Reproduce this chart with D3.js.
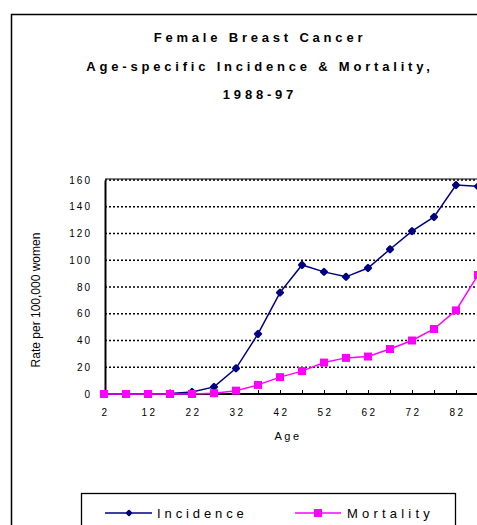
<!DOCTYPE html>
<html><head><meta charset="utf-8">
<script src="https://cdn.jsdelivr.net/npm/d3@7"></script>
<style>body{margin:0;background:#fff;}svg{display:block;font-family:"Liberation Sans",Arial,sans-serif;}</style>
</head><body>
<svg id="c" width="477" height="525"></svg>
<script>
const ages = [2,7,12,17,22,27,32,37,42,47,52,57,62,67,72,77,82,87];
const incidence = [0,0,0,0.4,1.5,5.3,19.2,44.9,75.8,96.5,91.3,87.6,94.2,108.2,121.8,132.4,156.2,155.2];
const mortality = [0,0,0,0,0,0.6,2.5,6.8,12.6,17.1,23.5,27.0,28.0,33.6,40.0,48.6,62.5,89.0];
const yTicks = [0,20,40,60,80,100,120,140,160];
const xLabelAges = [2,12,22,32,42,52,62,72,82];
const titleLines = ["Female Breast Cancer","Age-specific Incidence & Mortality,","1988-97"];

const svg = d3.select("#c");
// outer frame
svg.append("rect").attr("x",11.5).attr("y",14.5).attr("width",520).attr("height",540)
  .attr("fill","none").attr("stroke","#000").attr("stroke-width",1.5);

// title
svg.append("g").selectAll("text").data(titleLines).join("text")
  .attr("x",260).attr("y",(d,i)=>42+i*28.5).attr("text-anchor","middle")
  .attr("font-size",13).attr("font-weight","bold").attr("letter-spacing",3.8)
  .text(d=>d);

const L=105, T=180, B=394, R=478;
const x = d3.scalePoint().domain(ages).range([L-1,R]);
const y = d3.scaleLinear().domain([0,160]).range([B,T]);

// gridlines
svg.append("g").selectAll("line").data(yTicks.filter(v=>v>0)).join("line")
  .attr("x1",L).attr("x2",R+20).attr("y1",d=>y(d)).attr("y2",d=>y(d))
  .attr("stroke","#000").attr("stroke-width",1.3).attr("stroke-dasharray","2,2");
// top border
svg.append("line").attr("x1",L).attr("x2",R+20).attr("y1",T-1).attr("y2",T-1).attr("stroke","#000").attr("stroke-width",1);

// y axis
const yAxis = svg.append("g").attr("transform",`translate(${L},0)`)
  .call(d3.axisLeft(y).tickValues(yTicks).tickSize(0).tickPadding(13));
yAxis.select(".domain").attr("stroke","#000").attr("stroke-width",2);
yAxis.selectAll("text").attr("font-size",10).attr("letter-spacing",2).attr("fill","#000")
  .attr("font-family","Liberation Sans, Arial, sans-serif");

// x axis
const xAxis = svg.append("g").attr("transform",`translate(0,${B})`)
  .call(d3.axisBottom(x).tickSizeInner(-4).tickSizeOuter(0).tickFormat(d=>xLabelAges.includes(d)?d:""));
xAxis.select(".domain").attr("stroke","#000").attr("stroke-width",2).attr("d",`M${L-1},0H${R+20}`);
xAxis.selectAll(".tick line").attr("stroke","#000");
xAxis.selectAll("text").attr("font-size",10).attr("letter-spacing",2.5).attr("fill","#000")
  .attr("dy","1.9em").attr("dx","1").attr("font-family","Liberation Sans, Arial, sans-serif");

// axis titles
svg.append("text").attr("transform","translate(40,300) rotate(-90)").attr("text-anchor","middle")
  .attr("font-size",12).text("Rate per 100,000 women");
svg.append("text").attr("x",288).attr("y",440).attr("text-anchor","middle")
  .attr("font-size",11).attr("letter-spacing",2.5).text("Age");

const line = d3.line().x((d,i)=>x(ages[i])).y(d=>y(d));
const marker = d3.symbol().type(d3.symbolSquare).size(16);

// incidence
svg.append("path").datum(incidence).attr("d",line).attr("fill","none").attr("stroke","#000080").attr("stroke-width",1.5);
svg.append("g").selectAll("path").data(incidence).join("path")
  .attr("transform",(d,i)=>`translate(${x(ages[i])},${y(d)}) rotate(45)`).attr("d",marker)
  .attr("fill","#000080").attr("stroke","#000080").attr("stroke-width",2.5).attr("stroke-linejoin","round");
// mortality
svg.append("path").datum(mortality).attr("d",line).attr("fill","none").attr("stroke","#ff00ff").attr("stroke-width",1.5);
svg.append("g").selectAll("rect").data(mortality).join("rect")
  .attr("x",(d,i)=>x(ages[i])-4).attr("y",d=>y(d)-4).attr("width",8).attr("height",8)
  .attr("fill","#ff00ff");

// legend
svg.append("rect").attr("x",81.5).attr("y",493.5).attr("width",374).attr("height",60)
  .attr("fill","#fff").attr("stroke","#000").attr("stroke-width",1.3);
const lg = svg.append("g");
lg.append("line").attr("x1",105).attr("x2",152).attr("y1",513).attr("y2",513).attr("stroke","#000080").attr("stroke-width",1.5);
lg.append("path").attr("transform","translate(129,513) rotate(45)").attr("d",d3.symbol().type(d3.symbolSquare).size(10))
  .attr("fill","#000080").attr("stroke","#000080").attr("stroke-width",2).attr("stroke-linejoin","round");
lg.append("text").attr("x",157).attr("y",518).attr("font-size",13).attr("letter-spacing",3.9).text("Incidence");
lg.append("line").attr("x1",295).attr("x2",341).attr("y1",513).attr("y2",513).attr("stroke","#ff00ff").attr("stroke-width",1.5);
lg.append("rect").attr("x",314).attr("y",509).attr("width",8).attr("height",8).attr("fill","#ff00ff");
lg.append("text").attr("x",347).attr("y",518).attr("font-size",13).attr("letter-spacing",4.2).text("Mortality");
</script>
</body></html>
